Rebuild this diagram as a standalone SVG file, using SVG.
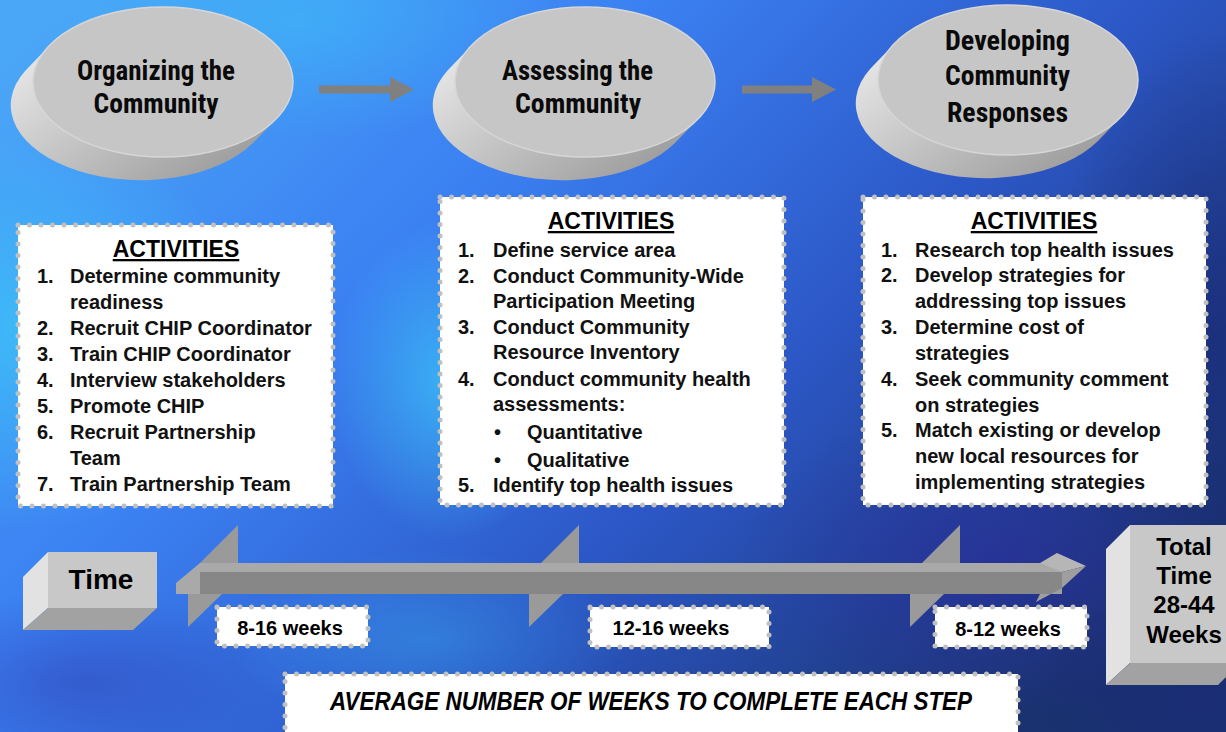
<svg xmlns="http://www.w3.org/2000/svg" width="1226" height="732" viewBox="0 0 1226 732">
<defs>
<linearGradient id="bg" x1="0" y1="0.1" x2="1" y2="0.7">
<stop offset="0" stop-color="#4aa6f7"/>
<stop offset="0.35" stop-color="#3b80f2"/>
<stop offset="0.65" stop-color="#2c57c6"/>
<stop offset="1" stop-color="#1a336e"/>
</linearGradient>
<radialGradient id="cyan" cx="0.5" cy="0.5" r="0.5">
<stop offset="0" stop-color="#3cc6fa" stop-opacity="0.75"/>
<stop offset="1" stop-color="#3cc6fa" stop-opacity="0"/>
</radialGradient>
<radialGradient id="navy" cx="0.5" cy="0.5" r="0.5">
<stop offset="0" stop-color="#1a2a78" stop-opacity="0.7"/>
<stop offset="1" stop-color="#1a2a78" stop-opacity="0"/>
</radialGradient>
<radialGradient id="purple" cx="0.5" cy="0.5" r="0.5">
<stop offset="0" stop-color="#2c2ca0" stop-opacity="0.6"/>
<stop offset="1" stop-color="#2c2ca0" stop-opacity="0"/>
</radialGradient>
<linearGradient id="side" x1="0" y1="0" x2="1" y2="0.7">
<stop offset="0" stop-color="#ededed"/>
<stop offset="0.5" stop-color="#c4c4c4"/>
<stop offset="1" stop-color="#9c9c9c"/>
</linearGradient>
<marker id="ah" markerUnits="userSpaceOnUse" markerWidth="26" markerHeight="26" refX="0" refY="12.5" orient="auto">
<path d="M0,0 L24,12.5 L0,25 z" fill="#808080"/>
</marker>
<style>
.top{fill:#c6c6c6;stroke:#d6d6d6;stroke-width:1.5}
.sideface{fill:url(#side)}
.etext{font-family:"Liberation Sans Narrow","Roboto Condensed","DejaVu Sans Condensed","Liberation Sans",sans-serif;font-weight:bold;font-size:28px;fill:#0a0a0a;text-anchor:middle}
.box{fill:#ffffff;stroke:#c0c0c0;stroke-width:5;stroke-dasharray:0 11.5;stroke-linecap:round}
.head{font-family:"Liberation Sans",Arial,sans-serif;font-weight:bold;font-size:23px;fill:#000;text-anchor:middle;text-decoration:underline}
.li{font-family:"Liberation Sans",Arial,sans-serif;font-weight:bold;font-size:20px;fill:#111}
.wk{font-family:"Liberation Sans",Arial,sans-serif;font-weight:bold;font-size:20px;fill:#000;text-anchor:middle}
.big{font-family:"Liberation Sans",Arial,sans-serif;font-weight:bold;fill:#000;text-anchor:middle}
.front{fill:#c8c8c8}
.lface{fill:#e2e2e2}
.bface{fill:#a2a2a2}
.fin{fill:#9a9a9a}
</style>
</defs>

<g id="background">
<rect x="0" y="0" width="1226" height="732" fill="url(#bg)"/>
<ellipse cx="30" cy="330" rx="220" ry="200" fill="url(#cyan)"/>
<ellipse cx="450" cy="380" rx="120" ry="160" fill="url(#cyan)"/>
<ellipse cx="300" cy="20" rx="260" ry="120" fill="url(#cyan)" opacity="0.6"/>
<ellipse cx="430" cy="640" rx="200" ry="90" fill="url(#cyan)" opacity="0.4"/>
<ellipse cx="1000" cy="560" rx="260" ry="160" fill="url(#purple)"/>
<ellipse cx="1210" cy="330" rx="160" ry="300" fill="url(#navy)"/>
<ellipse cx="1200" cy="700" rx="200" ry="120" fill="url(#navy)"/>
<ellipse cx="80" cy="680" rx="200" ry="90" fill="url(#purple)" opacity="0.6"/>
</g>

<g id="connectors">
<line x1="319" y1="89.5" x2="390" y2="89.5" stroke="#808080" stroke-width="8" marker-end="url(#ah)"/>
<line x1="742" y1="89.5" x2="812" y2="89.5" stroke="#808080" stroke-width="8" marker-end="url(#ah)"/>
</g>

<g id="node-organizing">
<path class="sideface" d="M25.3,70.7 A130,75 0 0 0 252.7,143.3 L276.7,118.3 L49.3,45.7 Z"/>
<ellipse class="top" cx="163" cy="82" rx="130" ry="75"/>
<text class="etext" x="156" y="80" textLength="158" lengthAdjust="spacingAndGlyphs">Organizing the</text>
<text class="etext" x="156" y="113" textLength="125" lengthAdjust="spacingAndGlyphs">Community</text>
</g>

<g id="node-assessing">
<path class="sideface" d="M447.3,70.7 A130,75 0 0 0 674.7,143.3 L698.7,118.3 L471.3,45.7 Z"/>
<ellipse class="top" cx="585" cy="82" rx="130" ry="75"/>
<text class="etext" x="577.5" y="80" textLength="151" lengthAdjust="spacingAndGlyphs">Assessing the</text>
<text class="etext" x="578" y="113" textLength="126" lengthAdjust="spacingAndGlyphs">Community</text>
</g>

<g id="node-developing">
<path class="sideface" d="M870.3,68.7 A130,75 0 0 0 1097.7,141.3 L1121.7,116.3 L894.3,43.7 Z"/>
<ellipse class="top" cx="1008" cy="80" rx="130" ry="75"/>
<text class="etext" x="1007.5" y="50" textLength="125" lengthAdjust="spacingAndGlyphs">Developing</text>
<text class="etext" x="1007.5" y="85" textLength="125" lengthAdjust="spacingAndGlyphs">Community</text>
<text class="etext" x="1007.5" y="122" textLength="121" lengthAdjust="spacingAndGlyphs">Responses</text>
</g>

<g id="activities-organizing">
<rect class="box" x="18" y="225" width="315" height="281"/>
<text class="head" x="176" y="257">ACTIVITIES</text>
<text class="li" x="37" y="283">1.</text><text class="li" x="70" y="283">Determine community</text>
<text class="li" x="70" y="309">readiness</text>
<text class="li" x="37" y="335">2.</text><text class="li" x="70" y="335">Recruit CHIP Coordinator</text>
<text class="li" x="37" y="361">3.</text><text class="li" x="70" y="361">Train CHIP Coordinator</text>
<text class="li" x="37" y="387">4.</text><text class="li" x="70" y="387">Interview stakeholders</text>
<text class="li" x="37" y="413">5.</text><text class="li" x="70" y="413">Promote CHIP</text>
<text class="li" x="37" y="439">6.</text><text class="li" x="70" y="439">Recruit Partnership</text>
<text class="li" x="70" y="465">Team</text>
<text class="li" x="37" y="491">7.</text><text class="li" x="70" y="491">Train Partnership Team</text>
</g>

<g id="activities-assessing">
<rect class="box" x="440" y="197" width="344" height="308"/>
<text class="head" x="611" y="229">ACTIVITIES</text>
<text class="li" x="458" y="257">1.</text><text class="li" x="493" y="257">Define service area</text>
<text class="li" x="458" y="283">2.</text><text class="li" x="493" y="283">Conduct Community-Wide</text>
<text class="li" x="493" y="308">Participation Meeting</text>
<text class="li" x="458" y="334">3.</text><text class="li" x="493" y="334">Conduct Community</text>
<text class="li" x="493" y="359">Resource Inventory</text>
<text class="li" x="458" y="386">4.</text><text class="li" x="493" y="386">Conduct community health</text>
<text class="li" x="493" y="411">assessments:</text>
<text class="li" x="494" y="439">•</text><text class="li" x="527" y="439">Quantitative</text>
<text class="li" x="494" y="467">•</text><text class="li" x="527" y="467">Qualitative</text>
<text class="li" x="458" y="492">5.</text><text class="li" x="493" y="492">Identify top health issues</text>
</g>

<g id="activities-developing">
<rect class="box" x="863" y="197" width="343" height="308"/>
<text class="head" x="1034" y="229">ACTIVITIES</text>
<text class="li" x="881" y="257">1.</text><text class="li" x="915" y="257">Research top health issues</text>
<text class="li" x="881" y="282">2.</text><text class="li" x="915" y="282">Develop strategies for</text>
<text class="li" x="915" y="308">addressing top issues</text>
<text class="li" x="881" y="334">3.</text><text class="li" x="915" y="334">Determine cost of</text>
<text class="li" x="915" y="360">strategies</text>
<text class="li" x="881" y="386">4.</text><text class="li" x="915" y="386">Seek community comment</text>
<text class="li" x="915" y="412">on strategies</text>
<text class="li" x="881" y="437">5.</text><text class="li" x="915" y="437">Match existing or develop</text>
<text class="li" x="915" y="463">new local resources for</text>
<text class="li" x="915" y="489">implementing strategies</text>
</g>

<g id="time">
<polygon class="lface" points="48,552 23,577 23,630 48,608"/>
<polygon class="bface" points="48,608 157,608 133,630 23,630"/>
<rect class="front" x="48" y="552" width="109" height="56"/>
<text class="big" x="101" y="589" font-size="28">Time</text>
</g>

<g id="timeline">
<polygon class="fin" points="238,525 238,563 200,563"/>
<polygon class="fin" points="188,594 188,627 222,594"/>
<polygon class="fin" points="579,525 579,563 541,563"/>
<polygon class="fin" points="529,594 529,627 563,594"/>
<polygon class="fin" points="960,525 960,563 922,563"/>
<polygon class="fin" points="910,594 910,627 944,594"/>
<polygon fill="#a9a9a9" points="176,583 200,563 1058,563 1062,572 200,572 200,594 176,594"/>
<rect fill="#878787" x="200" y="572" width="862" height="22"/>
<polygon fill="#b6b6b6" points="1040,563 1057,553 1086,566 1062,572"/>
<polygon fill="#9e9e9e" points="1062,572 1086,566 1062,588 1036,602 1040,594 1062,594"/>
</g>

<g id="weeks-1">
<rect class="box" x="217" y="607" width="151" height="39"/>
<text class="wk" x="290" y="635">8-16 weeks</text>
</g>
<g id="weeks-2">
<rect class="box" x="590" y="607" width="179" height="40"/>
<text class="wk" x="671" y="635">12-16 weeks</text>
</g>
<g id="weeks-3">
<rect class="box" x="935" y="607" width="152" height="40"/>
<text class="wk" x="1008" y="636">8-12 weeks</text>
</g>

<g id="total-time">
<polygon class="lface" points="1130,525 1106,549 1106,685 1130,663"/>
<polygon class="bface" points="1130,663 1240,663 1218,685 1106,685"/>
<rect class="front" x="1130" y="525" width="110" height="138"/>
<text class="big" x="1184" y="555" font-size="24">Total</text>
<text class="big" x="1184" y="584" font-size="24">Time</text>
<text class="big" x="1184" y="613" font-size="24">28-44</text>
<text class="big" x="1184" y="643" font-size="24">Weeks</text>
</g>

<g id="footer">
<rect class="box" x="285" y="674" width="733" height="70"/>
<text x="651" y="710" font-family="'Liberation Sans Narrow','Liberation Sans',Arial,sans-serif" font-weight="bold" font-style="italic" font-size="25" fill="#000" text-anchor="middle" textLength="642" lengthAdjust="spacingAndGlyphs">AVERAGE NUMBER OF WEEKS TO COMPLETE EACH STEP</text>
</g>
</svg>
